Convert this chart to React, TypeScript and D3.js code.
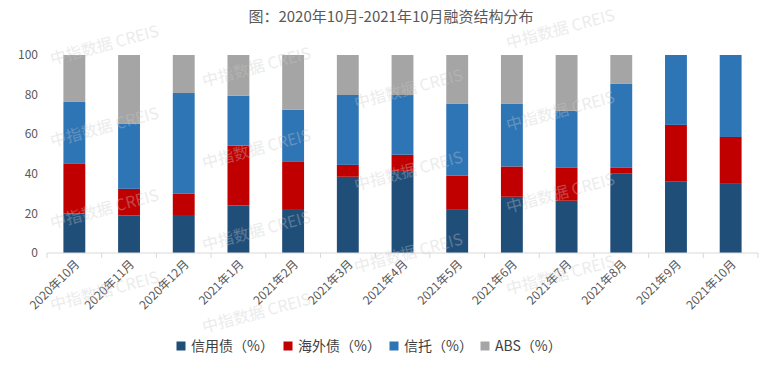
import React from "react";
import * as d3 from "d3";

const months = [
  "2020年10月", "2020年11月", "2020年12月", "2021年1月", "2021年2月", "2021年3月", "2021年4月",
  "2021年5月", "2021年6月", "2021年7月", "2021年8月", "2021年9月", "2021年10月",
];
const credit = [20, 19, 19.2, 24, 22.2, 38.5, 41.5, 21.8, 28.4, 26.4, 40.3, 36, 35.3];
const overseas = [25, 13.4, 10.7, 30.2, 23.8, 6, 8.1, 17.2, 15.3, 16.6, 2.7, 28.7, 23.3];
const trust = [31.3, 32.8, 50.9, 25.2, 26.3, 35.3, 30.2, 36.3, 31.6, 28.8, 42.4, 35.3, 41.4];
const abs = [23.7, 34.8, 19.2, 20.6, 27.7, 20.2, 20.2, 24.7, 24.7, 28.2, 14.6, 0, 0];
const yTicks = [0, 20, 40, 60, 80, 100];

const seriesKeys = ["credit", "overseas", "trust", "abs"];
const seriesNames = ["信用债（%）", "海外债（%）", "信托（%）", "ABS（%）"];
const colors = ["#1F4E79", "#C00000", "#2E75B6", "#A5A5A5"];

const W = 776;
const H = 365;
const FONT = "'Noto Sans CJK SC', 'Noto Sans', sans-serif";

const App = () => {
  const x = d3.scaleBand().domain(months).range([47, 758]);
  const y = d3.scaleLinear().domain([0, 100]).range([253, 55]);
  const bw = x.bandwidth();

  const table = months.map((m, i) => ({
    month: m,
    credit: credit[i],
    overseas: overseas[i],
    trust: trust[i],
    abs: abs[i],
  }));
  const stacked = d3.stack<any>().keys(seriesKeys)(table);

  // faint watermark grid, kept inside the frame
  const marks: { x: number; y: number }[] = [];
  for (let c = 0; c < 5; c++) {
    for (let r = -1; r < 4; r++) {
      const px = 52 + c * 152;
      const py = 65 + r * 82 + c * 22;
      if (py < 40 || py > 340 || px > 650) continue;
      marks.push({ x: px, y: py });
    }
  }

  const legendX = [181, 288, 394, 485];

  return (
    <svg width={W} height={H} style={{ position: "absolute", left: 0, top: 0, background: "#fff" }} fontFamily={FONT}>
      <text x={391} y={22} textAnchor="middle" fontSize={15} fill="#595959">
        图：2020年10月-2021年10月融资结构分布
      </text>

      {yTicks.map((t) => (
        <text key={t} x={38} y={y(t)} dy="0.35em" textAnchor="end" fontSize={12} fill="#595959">
          {t}
        </text>
      ))}

      {stacked.map((s, si) => (
        <g key={s.key} fill={colors[si]}>
          {s.map((d, i) => (
            <rect
              key={i}
              x={(x(months[i]) as number) + bw * 0.3}
              y={y(d[1])}
              width={bw * 0.4}
              height={Math.max(0, y(d[0]) - y(d[1]))}
            />
          ))}
        </g>
      ))}

      <line x1={47} x2={758} y1={y(0)} y2={y(0)} stroke="#D9D9D9" />
      {months.concat([""]).map((m, i) => {
        const px = i < months.length ? (x(m) as number) : 758;
        return <line key={i} x1={px} x2={px} y1={y(0)} y2={y(0) + 5} stroke="#D9D9D9" />;
      })}

      {months.map((m) => {
        const cx = (x(m) as number) + bw / 2 + 6;
        return (
          <text
            key={m}
            transform={`translate(${cx},${y(0) + 12}) rotate(-45)`}
            textAnchor="end"
            fontSize={12}
            fill="#595959"
          >
            {m}
          </text>
        );
      })}

      {marks.map((p, i) => (
        <text
          key={i}
          transform={`translate(${p.x},${p.y}) rotate(-15)`}
          fontSize={16}
          fill="#C8C8C8"
          opacity={0.35}
        >
          中指数据 CREIS
        </text>
      ))}

      {seriesNames.map((n, i) => (
        <g key={n} transform={`translate(${legendX[i]},346)`}>
          <rect x={-4.5} y={-4.5} width={9} height={9} fill={colors[i]} />
          <text x={10} y={0} dy="0.35em" fontSize={14} fill="#404040">
            {n}
          </text>
        </g>
      ))}
    </svg>
  );
};

export default App;
